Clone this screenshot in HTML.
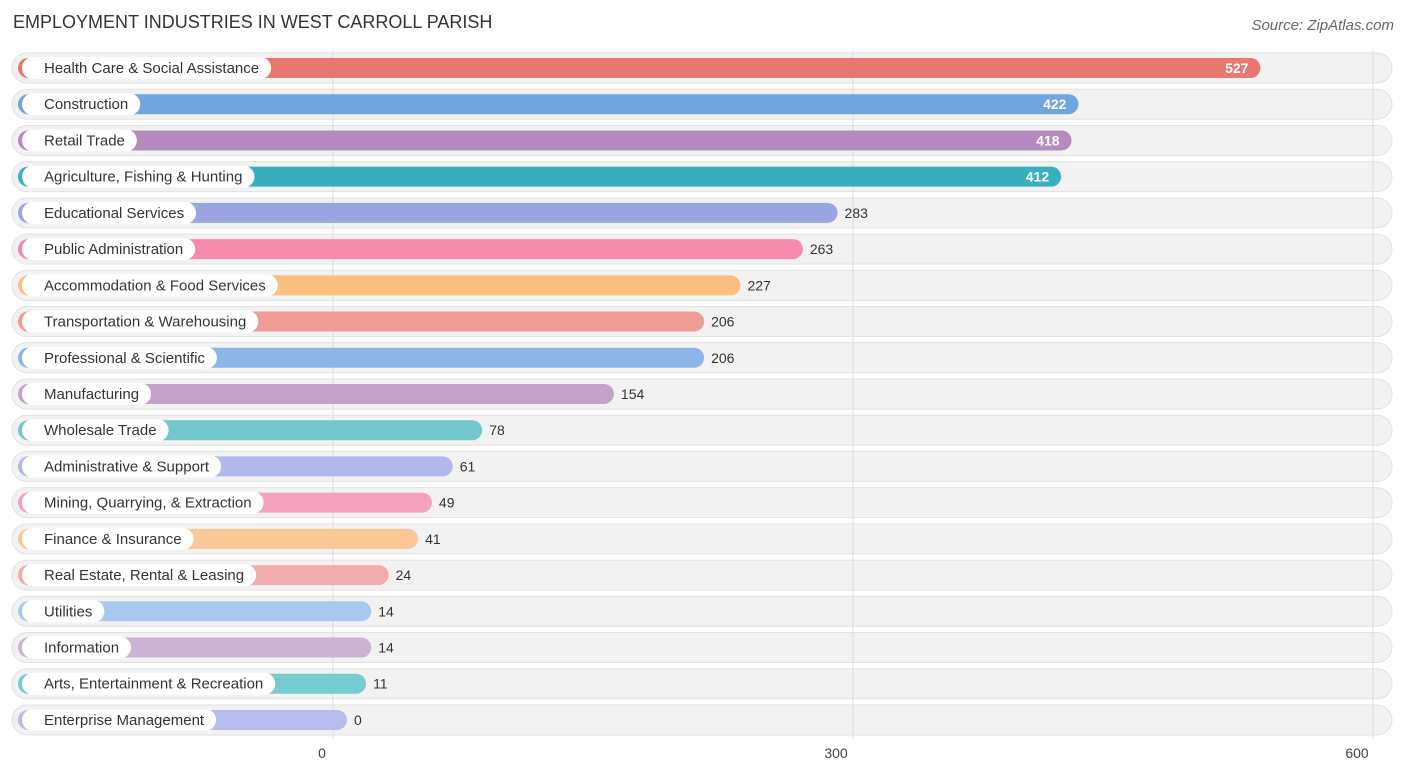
<!DOCTYPE html>
<html><head><meta charset="utf-8"><style>
body{margin:0;background:#fff;font-family:"Liberation Sans",sans-serif;}
</style></head><body>
<svg width="1406" height="776" xmlns="http://www.w3.org/2000/svg">
<text x="13" y="28" font-size="18" fill="#333">EMPLOYMENT INDUSTRIES IN WEST CARROLL PARISH</text>
<text x="1394" y="30" font-size="15" fill="#666" font-style="italic" text-anchor="end">Source: ZipAtlas.com</text>
<g id="bgs"></g><g id="grid"></g><g id="rows"></g><g id="ticks"></g>
</svg>
<script>
const categories=["Health Care & Social Assistance","Construction","Retail Trade","Agriculture, Fishing & Hunting","Educational Services","Public Administration","Accommodation & Food Services","Transportation & Warehousing","Professional & Scientific","Manufacturing","Wholesale Trade","Administrative & Support","Mining, Quarrying, & Extraction","Finance & Insurance","Real Estate, Rental & Leasing","Utilities","Information","Arts, Entertainment & Recreation","Enterprise Management"];
const values=[527,422,418,412,283,263,227,206,206,154,78,61,49,41,24,14,14,11,0];
const colors=["#e8786f","#6fa6e0","#b58abf","#3aafbf","#9aa6e3","#f48aac","#fbbf80","#ee9c94","#8db6e8","#c4a2c9","#72c8cc","#b2b8ec","#f6a2bf","#fbc795","#f2abab","#a9c8ee","#ccb2d3","#78ccd0","#b6bcec"];
const tickVals=[0,300,600];
const NS="http://www.w3.org/2000/svg";
const x0=333,k=520/300,y0=68,dy=36.22;
const X=v=>x0+v*k;
function el(t,a,p){const e=document.createElementNS(NS,t);for(const i in a)e.setAttribute(i,a[i]);p.appendChild(e);return e;}
const bgs=document.getElementById('bgs'),grid=document.getElementById('grid'),rows=document.getElementById('rows'),ticks=document.getElementById('ticks');
const tickShift=[-11,-17,-16];
tickVals.forEach((t,j)=>{
 const l=el('line',{x1:X(t),x2:X(t),y1:50,y2:738,stroke:'#dcdcdc','stroke-width':1},grid);
 
 const tx=el('text',{x:X(t)+tickShift[j],y:758,'font-size':14,fill:'#444','text-anchor':'middle'},ticks);tx.textContent=t;
 
});
categories.forEach((c,i)=>{
 const cy=y0+i*dy;
 const bg=el('rect',{x:12,y:cy-15,width:1380,height:30,rx:15,fill:'#f2f2f2',stroke:'#e2e2e2'},bgs);
 
 const g=el('g',{},rows);
 
 const end=X(values[i])+14;
 const b=el('rect',{x:18,y:cy-10,width:end-18,height:20,rx:10,fill:colors[i]},g);
 
 const lp=el('rect',{x:22,y:cy-11,width:100,height:22,rx:11,fill:'#fff'},g);
 
 const lt=el('text',{x:44,y:cy+5,'font-size':15,fill:'#333'},g);lt.textContent=c;
 
 let w=lt.getComputedTextLength();
 lp.setAttribute('width',w+22+12);
 const inside=values[i]>350;
 const vt=el('text',{x:inside?end-12:end+7,y:cy+5,'font-size':14,fill:inside?'#fff':'#333','text-anchor':inside?'end':'start','font-weight':inside?'bold':'normal'},g);
 vt.textContent=values[i];
 
});
</script>
</body></html>
